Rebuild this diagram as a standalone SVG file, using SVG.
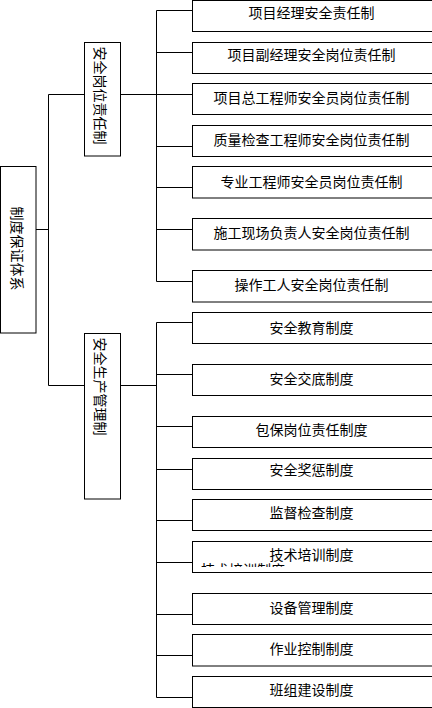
<svg xmlns="http://www.w3.org/2000/svg" width="432" height="708" viewBox="0 0 432 708">
<style>
.box{fill:#fff;stroke:#000;stroke-width:1}
.ln{fill:none;stroke:#000;stroke-width:1}
text{font-family:"Noto Sans CJK SC","Noto Sans",sans-serif;font-size:14px;fill:#000}
.c{text-anchor:middle}
</style>
<defs>
<clipPath id="clipDup"><rect x="193" y="540" width="239" height="27"/></clipPath>
</defs>
<rect width="432" height="708" fill="#fff"/>
<g id="connectors">
<path class="ln" d="M36 229.5H48.5M48.5 94.5V385.5M48.5 94.5H84M48.5 385.5H84"/>
<path class="ln" d="M120 94.5H156.5M156.5 10.5V281.5M156.5 10.5H192M156.5 52.5H192M156.5 94.5H192M156.5 146.5H192M156.5 187.5H192M156.5 229.5H192M156.5 281.5H192"/>
<path class="ln" d="M120 385.5H156.5M156.5 322.5V697.5M156.5 322.5H192M156.5 374.5H192M156.5 426.5H192M156.5 469.5H192M156.5 520.5H192M156.5 562.5H192M156.5 614.5H192M156.5 655.5H192M156.5 697.5H192"/>
</g>
<g id="root">
<rect class="box" x="0.5" y="166.5" width="35.5" height="166.5"/>
<text class="c" transform="translate(12,248.5) rotate(90)">制度保证体系</text>
</g>
<g id="n-gangwei">
<rect class="box" x="84.5" y="42.5" width="36" height="113.5"/>
<text class="c" transform="translate(94.5,95.5) rotate(90)">安全岗位责任制</text>
</g>
<g id="n-shengchan">
<rect class="box" x="84.5" y="333.5" width="36" height="165.5"/>
<text class="c" transform="translate(94.5,386.5) rotate(90)">安全生产管理制</text>
</g>
<g id="leaf1"><rect class="box" x="192.5" y="0.5" width="250" height="31"/><text class="c" x="311.5" y="18">项目经理安全责任制</text></g>
<g id="leaf2"><rect class="box" x="192.5" y="42.5" width="250" height="31"/><text class="c" x="311.5" y="60">项目副经理安全岗位责任制</text></g>
<g id="leaf3"><rect class="box" x="192.5" y="83.5" width="250" height="31"/><text class="c" x="311.5" y="102.5">项目总工程师安全员岗位责任制</text></g>
<g id="leaf4"><rect class="box" x="192.5" y="125.5" width="250" height="31"/><text class="c" x="311.5" y="144.5">质量检查工程师安全岗位责任制</text></g>
<g id="leaf5"><rect class="box" x="192.5" y="166.5" width="250" height="31.5"/><text class="c" x="311.5" y="186.5">专业工程师安全员岗位责任制</text></g>
<g id="leaf6"><rect class="box" x="192.5" y="218.5" width="250" height="31.5"/><text class="c" x="311.5" y="238">施工现场负责人安全岗位责任制</text></g>
<g id="leaf7"><rect class="box" x="192.5" y="270.5" width="250" height="31.5"/><text class="c" x="311.5" y="289.5">操作工人安全岗位责任制</text></g>
<g id="leaf8"><rect class="box" x="192.5" y="312.5" width="250" height="31"/><text class="c" x="311.5" y="332.5">安全教育制度</text></g>
<g id="leaf9"><rect class="box" x="192.5" y="364.5" width="250" height="31"/><text class="c" x="311.5" y="383.5">安全交底制度</text></g>
<g id="leaf10"><rect class="box" x="192.5" y="416.5" width="250" height="31"/><text class="c" x="311.5" y="435">包保岗位责任制度</text></g>
<g id="leaf11"><rect class="box" x="192.5" y="458.5" width="250" height="31"/><text class="c" x="311.5" y="475">安全奖惩制度</text></g>
<g id="leaf12"><rect class="box" x="192.5" y="499.5" width="250" height="31"/><text class="c" x="311.5" y="517.5">监督检查制度</text></g>
<g id="leaf13"><rect class="box" x="192.5" y="541.5" width="250" height="31"/><text class="c" x="311.5" y="560">技术培训制度</text><text x="201" y="575" clip-path="url(#clipDup)">技术培训制度</text></g>
<g id="leaf14"><rect class="box" x="192.5" y="593.5" width="250" height="31"/><text class="c" x="311.5" y="612.5">设备管理制度</text></g>
<g id="leaf15"><rect class="box" x="192.5" y="634.5" width="250" height="31.5"/><text class="c" x="311.5" y="653.5">作业控制制度</text></g>
<g id="leaf16"><rect class="box" x="192.5" y="676.5" width="250" height="31"/><text class="c" x="311.5" y="694.5">班组建设制度</text></g>
</svg>
